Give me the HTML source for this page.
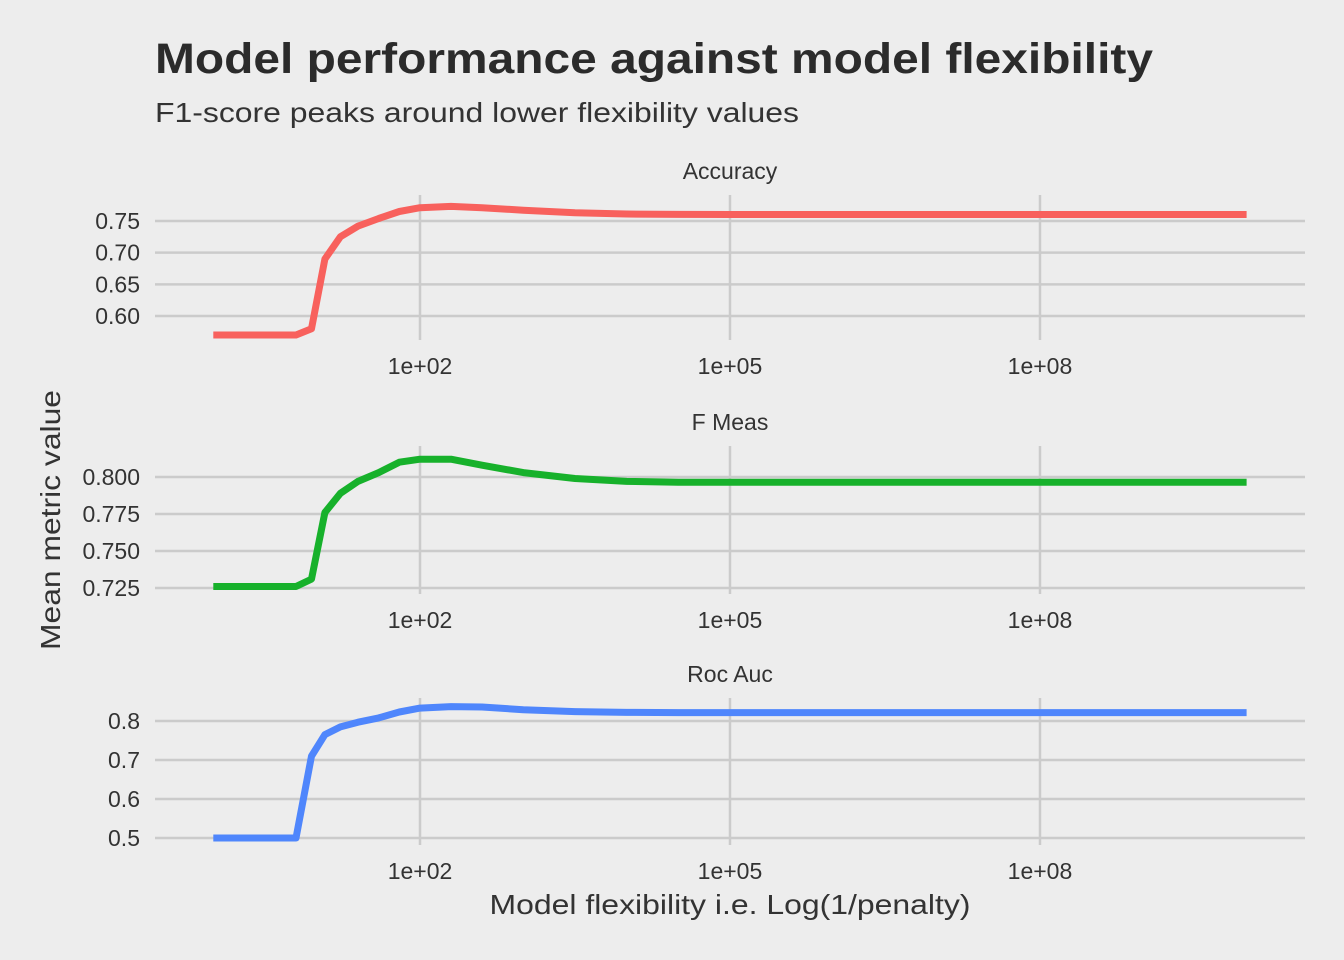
<!DOCTYPE html>
<html><head><meta charset="utf-8"><style>
body{margin:0;background:#ededed;}
svg{display:block;font-family:"Liberation Sans",sans-serif;}
</style></head><body>
<svg id="chart" width="1344" height="960" viewBox="0 0 1344 960">
<rect width="1344" height="960" fill="#ededed"/>
<text x="155" y="73" font-size="43" font-weight="bold" fill="#2b2b2b" textLength="998" lengthAdjust="spacingAndGlyphs">Model performance against model flexibility</text>
<text x="155" y="122" font-size="28" fill="#333" textLength="644" lengthAdjust="spacingAndGlyphs">F1-score peaks around lower flexibility values</text>
<text transform="translate(60,520) rotate(-90)" text-anchor="middle" font-size="28" fill="#333" textLength="260" lengthAdjust="spacingAndGlyphs">Mean metric value</text>
<text x="730" y="914" text-anchor="middle" font-size="28" fill="#333" textLength="481" lengthAdjust="spacingAndGlyphs">Model flexibility i.e. Log(1/penalty)</text>
<g id="plots"></g>
</svg>
<script>
const xLog = [0,0.2,0.4,0.6,0.8,0.95,1.08,1.23,1.4,1.6,1.8,2,2.3,2.6,3,3.5,4,4.5,5,6,7,8,9,10];
const accuracy = [0.57,0.57,0.57,0.57,0.57,0.58,0.69,0.725,0.742,0.754,0.765,0.771,0.773,0.771,0.767,0.763,0.761,0.7605,0.7603,0.7602,0.7602,0.7602,0.7602,0.7602];
const fmeas = [0.726,0.726,0.726,0.726,0.726,0.731,0.776,0.789,0.797,0.803,0.810,0.812,0.812,0.808,0.803,0.799,0.797,0.7965,0.7965,0.7965,0.7965,0.7965,0.7965,0.7965];
const rocauc = [0.5,0.5,0.5,0.5,0.5,0.71,0.765,0.785,0.797,0.808,0.823,0.833,0.837,0.836,0.829,0.824,0.822,0.8215,0.8215,0.8215,0.8215,0.8215,0.8215,0.8215];
const xTickVals = [2,5,8];
const xTickLabels = ["1e+02","1e+05","1e+08"];
const panelNames = ["Accuracy","F Meas","Roc Auc"];
const accTicks = [0.60,0.65,0.70,0.75];
const fTicks = [0.725,0.750,0.775,0.800];
const rocTicks = [0.5,0.6,0.7,0.8];
const accTickLabels = ["0.60","0.65","0.70","0.75"];
const fTickLabels = ["0.725","0.750","0.775","0.800"];
const rocTickLabels = ["0.5","0.6","0.7","0.8"];

const NS="http://www.w3.org/2000/svg";
const g=document.getElementById('plots');
function mk(t,a,p){const e=document.createElementNS(NS,t);for(const k in a)e.setAttribute(k,a[k]);(p||g).appendChild(e);return e;}
const xs=v=>420+(v-2)*103.33;
const panels=[
 {vals:accuracy,ticks:accTicks,labels:accTickLabels,col:"#f8615d",top:195,bot:340,v0:0.60,p0:316,v1:0.75,p1:221,key:"accuracy"},
 {vals:fmeas,ticks:fTicks,labels:fTickLabels,col:"#17b12b",top:446,bot:594,v0:0.725,p0:588,v1:0.800,p1:477,key:"f-meas"},
 {vals:rocauc,ticks:rocTicks,labels:rocTickLabels,col:"#4f86fc",top:698,bot:845,v0:0.5,p0:838,v1:0.8,p1:721,key:"roc-auc"}];
panels.forEach((P,i)=>{
 const ys=v=>P.p0+(v-P.v0)*(P.p1-P.p0)/(P.v1-P.v0);
 const pg=mk('g',{});
 
 
 const st=mk('text',{x:730,y:P.top-16,'text-anchor':'middle','font-size':23,fill:'#333'},pg);
 
 
 st.textContent=panelNames[i];
 P.ticks.forEach((t,j)=>{
  const y=ys(t);
  const l=mk('line',{x1:155,x2:1305,y1:y,y2:y,stroke:'#cbcbcb','stroke-width':2.5},pg);
  
  
  const tx=mk('text',{x:140,y:y+8,'text-anchor':'end','font-size':23,fill:'#333'},pg);
  
  
  tx.textContent=P.labels[j];
 });
 xTickVals.forEach((t,j)=>{
  const x=xs(t);
  const l=mk('line',{x1:x,x2:x,y1:P.top,y2:P.bot,stroke:'#cbcbcb','stroke-width':2.5},pg);
  
  
  const tx=mk('text',{x:x,y:P.bot+34,'text-anchor':'middle','font-size':23,fill:'#333'},pg);
  
  
  tx.textContent=xTickLabels[j];
 });
 const d=P.vals.map((v,k)=>(k?'L':'M')+xs(xLog[k]).toFixed(1)+','+ys(v).toFixed(1)).join(' ');
 const ln=mk('path',{d:d,fill:'none',stroke:P.col,'stroke-width':7,'stroke-linejoin':'round'},pg);
 
 
});
</script>
</body></html>
